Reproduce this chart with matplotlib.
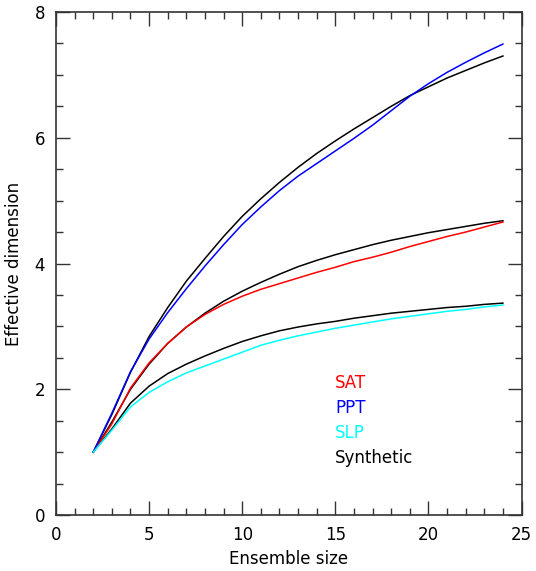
import numpy as np
import matplotlib
matplotlib.use('Agg')
import matplotlib.pyplot as plt
from matplotlib.ticker import MultipleLocator

# ensemble sizes
ens = list(range(2, 25))

# effective dimension per field
sat = [1.00, 1.45, 2.02, 2.42, 2.73, 2.99, 3.19, 3.35, 3.48, 3.59, 3.68, 3.77,
       3.86, 3.94, 4.03, 4.10, 4.18, 4.27, 4.35, 4.43, 4.50, 4.58, 4.66]
ppt = [1.00, 1.62, 2.28, 2.80, 3.22, 3.60, 3.96, 4.30, 4.62, 4.90, 5.16, 5.39,
       5.59, 5.79, 5.99, 6.20, 6.43, 6.66, 6.86, 7.04, 7.20, 7.35, 7.49]
slp = [1.00, 1.35, 1.72, 1.95, 2.12, 2.26, 2.37, 2.48, 2.59, 2.70, 2.78, 2.85,
       2.91, 2.97, 3.02, 3.07, 3.12, 3.16, 3.20, 3.24, 3.27, 3.31, 3.34]

# synthetic counterparts
syn_ppt = [1.00, 1.60, 2.27, 2.84, 3.30, 3.72, 4.08, 4.43, 4.75, 5.03, 5.29, 5.53,
           5.75, 5.95, 6.14, 6.32, 6.50, 6.67, 6.81, 6.95, 7.07, 7.19, 7.30]
syn_sat = [1.00, 1.48, 2.00, 2.40, 2.73, 2.99, 3.21, 3.40, 3.56, 3.70, 3.83, 3.95,
           4.05, 4.14, 4.22, 4.30, 4.37, 4.43, 4.49, 4.54, 4.59, 4.64, 4.68]
syn_slp = [1.00, 1.37, 1.78, 2.05, 2.25, 2.40, 2.53, 2.65, 2.76, 2.85, 2.93, 2.99,
           3.04, 3.08, 3.13, 3.17, 3.21, 3.24, 3.27, 3.30, 3.32, 3.35, 3.37]

labels = ['SAT', 'PPT', 'SLP', 'Synthetic']
colors = ['#ff0000', '#0000ff', '#00ffff', 'black']

plt.rcParams['font.family'] = 'DejaVu Sans'
fig = plt.figure(figsize=(5.36, 5.71), dpi=100)
ax = fig.add_axes([0.1045, 0.098, 0.8685, 0.881])

lw = 1.1
ax.plot(ens, syn_ppt, c='black', lw=lw)
ax.plot(ens, syn_sat, c='black', lw=lw)
ax.plot(ens, syn_slp, c='black', lw=lw)
ax.plot(ens, sat, c=colors[0], lw=lw)
ax.plot(ens, ppt, c=colors[1], lw=lw)
ax.plot(ens, slp, c=colors[2], lw=lw)

# text legend, IDL style
for i, (lab, col) in enumerate(zip(labels, colors)):
    ax.text(15.0, 2.10 - 0.40 * i, lab, color=col, fontsize=12, va='center', ha='left')

ax.set_xlim(0, 25)
ax.set_ylim(0, 8)
ax.xaxis.set_major_locator(MultipleLocator(5))
ax.xaxis.set_minor_locator(MultipleLocator(1))
ax.yaxis.set_major_locator(MultipleLocator(2))
ax.yaxis.set_minor_locator(MultipleLocator(0.5))
ax.tick_params(which='both', direction='in', top=True, right=True, labelsize=12, width=1, color='#333333')
ax.tick_params(which='major', length=10, pad=8)
ax.tick_params(which='minor', length=5)
for s in ax.spines.values():
    s.set_linewidth(1.2)
    s.set_color('#333333')
ax.set_xlabel('Ensemble size', fontsize=12, labelpad=4)
ax.set_ylabel('Effective dimension', fontsize=12, labelpad=8)

fig.savefig('out.png', dpi=100)
